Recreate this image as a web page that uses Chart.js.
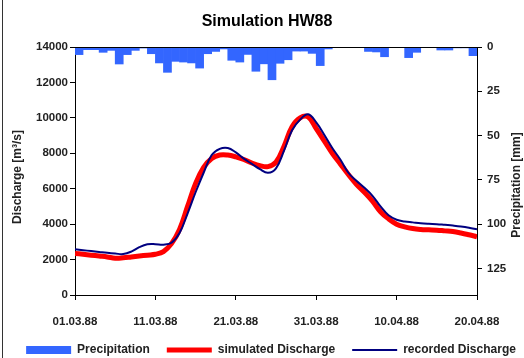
<!DOCTYPE html>
<html>
<head>
<meta charset="utf-8">
<script src="https://cdn.jsdelivr.net/npm/chart.js@4/dist/chart.umd.min.js"></script>
<style>
  html, body { margin: 0; padding: 0; background: #fff; }
  canvas { display: block; }
</style>
</head>
<body>
<canvas id="hwChart" width="524" height="358"></canvas>
<script>
// day 0 = 01.03.88 ... day 50 = 20.04.88
const tickLabels = ['01.03.88', '11.03.88', '21.03.88', '31.03.88', '10.04.88', '20.04.88']

// daily precipitation [mm], one bar per day (days 0..49)
const precipitation = [
  4.3, 1.5, 1.5, 3.0, 1.9, 9.6, 4.3, 1.9, 0.6, 3.8,
  9.0, 14.3, 8.1, 8.5, 9.0, 11.9, 3.8, 2.5, 1.1, 7.5,
  8.5, 4.2, 13.7, 9.5, 18.5, 9.2, 7.2, 2.3, 2.3, 3.6,
  10.5, 1.1, 0, 0, 0, 0, 2.5, 2.8, 5.5, 0,
  0, 6.0, 3.0, 0, 0, 1.7, 1.7, 0.5, 0.5, 4.9,
]

// discharge [m³/s], days 0..50
const simulated = [
  2350, 2300, 2250, 2200, 2150, 2080, 2100, 2150, 2200, 2250,
  2300, 2450, 2900, 3700, 5000, 6300, 7200, 7700, 7900, 7900,
  7800, 7650, 7450, 7300, 7250, 7500, 8400, 9500, 10000, 10050,
  9400, 8700, 8000, 7400, 6800, 6250, 5800, 5300, 4700, 4300,
  4000, 3850, 3750, 3700, 3680, 3660, 3620, 3580, 3500, 3400,
  3290,
]

const recorded = [
  2580, 2530, 2480, 2430, 2380, 2340, 2310, 2450, 2700, 2860,
  2870, 2840, 2950, 3500, 4600, 5800, 6900, 7900, 8250, 8300,
  8050, 7700, 7400, 7100, 6900, 7150, 8150, 9300, 9900, 10200,
  9750, 9050, 8300, 7650, 6900, 6450, 6050, 5600, 5000, 4500,
  4250, 4150, 4100, 4050, 4020, 4000, 3960, 3920, 3870, 3800,
  3710,
]

const TICK_FONT = { family: 'Liberation Sans, Arial, sans-serif', size: 11.5, weight: 'bold' }
const TEXT = '#222'

// title, axis titles (both read bottom-to-top), top border, left frame line
const decorations = {
  id: 'decorations',
  afterLayout(chart) {
    // legend sits a little right of centre in the original
    chart.legend.left += 9
    chart.legend.right += 9
  },
  afterDatasetsDraw(chart) {
    const { ctx, chartArea } = chart
    ctx.save()
    ctx.strokeStyle = '#000'
    ctx.lineWidth = 1
    ctx.beginPath()
    ctx.moveTo(chartArea.left, chartArea.top + 0.5)
    ctx.lineTo(chartArea.right, chartArea.top + 0.5)
    ctx.stroke()
    ctx.restore()
  },
  afterDraw(chart) {
    const { ctx } = chart
    ctx.save()
    ctx.fillStyle = '#000'
    ctx.textAlign = 'center'
    ctx.textBaseline = 'middle'
    ctx.font = 'bold 16px Liberation Sans, Arial, sans-serif'
    ctx.fillText('Simulation HW88', 267, 22)

    ctx.fillStyle = TEXT
    ctx.font = 'bold 12px Liberation Sans, Arial, sans-serif'
    ctx.translate(18, 177)
    ctx.rotate(-Math.PI / 2)
    ctx.fillText('Discharge [m³/s]', 0, 0)
    ctx.setTransform(1, 0, 0, 1, 0, 0)
    ctx.translate(517, 185)
    ctx.rotate(-Math.PI / 2)
    ctx.fillText('Precipitation [mm]', 0, 0)
    ctx.setTransform(1, 0, 0, 1, 0, 0)

    ctx.strokeStyle = '#333'
    ctx.beginPath()
    ctx.moveTo(2.5, 0)
    ctx.lineTo(2.5, 358)
    ctx.stroke()
    ctx.restore()
  },
}

new Chart(document.getElementById('hwChart'), {
  type: 'bar',
  data: {
    datasets: [
      {
        type: 'bar',
        label: 'Precipitation',
        data: precipitation.map((v, i) => ({ x: i + 0.5, y: v })),
        yAxisID: 'y2',
        backgroundColor: '#3366ff',
        borderWidth: 0,
        barPercentage: 1,
        categoryPercentage: 1,
        pointStyle: 'rect',
        order: 3,
      },
      {
        type: 'line',
        label: 'simulated Discharge',
        data: simulated.map((v, i) => ({ x: i, y: v })),
        yAxisID: 'y',
        borderColor: '#ff0000',
        backgroundColor: '#ff0000',
        borderWidth: 5,
        tension: 0.4,
        pointRadius: 0,
        pointStyle: 'line',
        order: 2,
      },
      {
        type: 'line',
        label: 'recorded Discharge',
        data: recorded.map((v, i) => ({ x: i, y: v })),
        yAxisID: 'y',
        borderColor: '#000080',
        backgroundColor: '#000080',
        borderWidth: 2,
        tension: 0.4,
        pointRadius: 0,
        pointStyle: 'line',
        order: 1,
      },
    ],
  },
  options: {
    responsive: false,
    animation: false,
    layout: { padding: { top: 47, left: 0, right: 0, bottom: 0 } },
    plugins: {
      title: { display: false },
      tooltip: { enabled: false },
      legend: {
        position: 'bottom',
        maxHeight: 31,
        labels: {
          usePointStyle: true,
          pointStyleWidth: 45,
          boxHeight: 8,
          padding: 17,
          color: TEXT,
          font: { family: 'Liberation Sans, Arial, sans-serif', size: 12, weight: 'bold' },
          sort: (a, b) => a.datasetIndex - b.datasetIndex,
        },
      },
    },
    scales: {
      x: {
        type: 'linear',
        position: 'bottom',
        min: 0,
        max: 50,
        offset: false,
        afterFit: s => { s.height = 32 },
        grid: { offset: false, drawOnChartArea: false, tickLength: 5, color: '#000' },
        border: { color: '#000' },
        ticks: {
          stepSize: 10,
          maxRotation: 0,
          padding: 15,
          color: TEXT,
          font: TICK_FONT,
          callback: value => tickLabels[value / 10],
        },
      },
      y: {
        position: 'left',
        min: 0,
        max: 14000,
        afterFit: s => { s.width = 75 },
        grid: { drawOnChartArea: false, tickLength: 5, color: '#000' },
        border: { color: '#000' },
        ticks: { stepSize: 2000, padding: 2, color: TEXT, font: TICK_FONT, callback: value => String(value) },
      },
      y2: {
        position: 'right',
        min: 0,
        max: 140,
        reverse: true,
        afterFit: s => { s.width = 47 },
        grid: { drawOnChartArea: false, tickLength: 5, color: '#000' },
        border: { color: '#000' },
        ticks: { stepSize: 25, includeBounds: false, padding: 5, color: TEXT, font: TICK_FONT, callback: value => String(value) },
      },
    },
  },
  plugins: [decorations],
})
</script>
</body>
</html>
